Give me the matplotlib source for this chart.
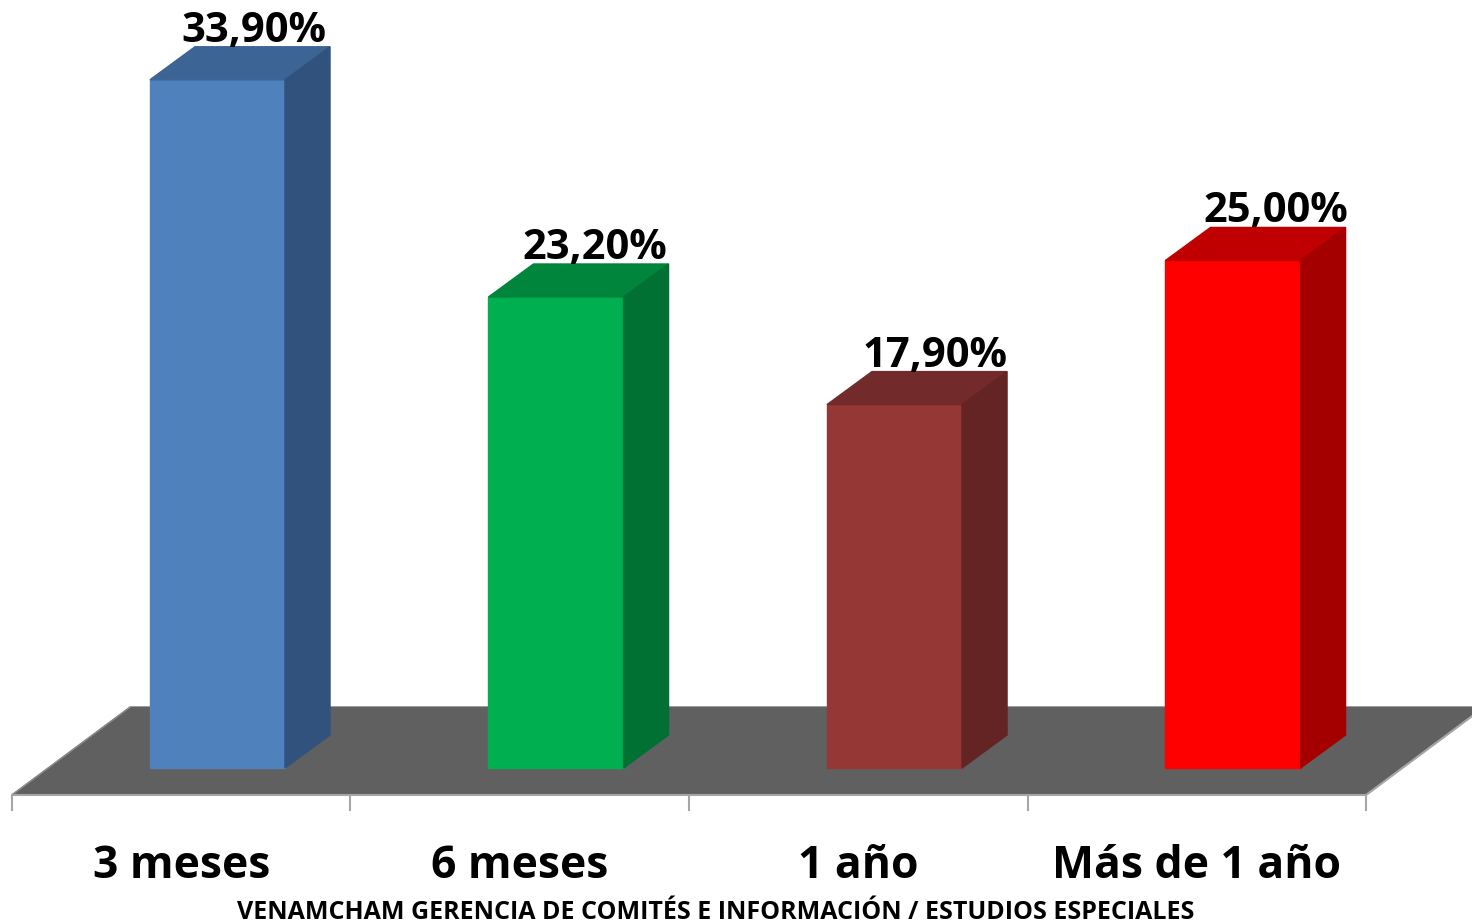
"""3D-style bar chart: tiempo estimado (VENAMCHAM)."""

import matplotlib
matplotlib.use("Agg")
import matplotlib.pyplot as plt

# data
categories = ["3 meses", "6 meses", "1 año", "Más de 1 año"]
values = [33.9, 23.2, 17.9, 25.0]
value_labels = ["33,90%", "23,20%", "17,90%", "25,00%"]
front_colors = ["#4F81BD", "#00B050", "#953735", "#FF0000"]
top_colors = ["#3C6494", "#00863C", "#722B2A", "#C00000"]
side_colors = ["#30527C", "#007033", "#632423", "#A50000"]
footer = "VENAMCHAM GERENCIA DE COMITÉS E INFORMACIÓN / ESTUDIOS ESPECIALES"

plt.rcParams["font.family"] = ["Open Sans", "DejaVu Sans"]

fig = plt.figure(figsize=(14.72, 9.24), dpi=100)
ax = fig.add_axes([0, 0, 1, 1])
ax.set_xlim(-0.5354, 3.813)
ax.set_ylim(-7.685, 37.83)
ax.axis("off")

# 3D projection offsets (data units)
bar_dx, bar_dy = 0.133, 1.626
floor_dx, floor_dy = 0.349, 4.33
floor_front = -1.33
bar_w = 0.399
bar_shift = 0.107

# floor
n = len(categories)
fx = [-0.5, n - 0.5, n - 0.5 + floor_dx, -0.5 + floor_dx]
fy = [floor_front, floor_front, floor_front + floor_dy, floor_front + floor_dy]
ax.fill(fx, fy, color="#606060", zorder=1)
ax.plot([-0.5, n - 0.5, n - 0.5 + floor_dx], [floor_front, floor_front, floor_front + floor_dy],
        color="#A6A6A6", lw=1.5, zorder=2)
ax.plot([-0.5, -0.5 + floor_dx], [floor_front, floor_front + floor_dy], color="#8C8C8C", lw=1, zorder=2)
for k in range(n + 1):
    ax.plot([k - 0.5, k - 0.5], [floor_front, floor_front - 0.75], color="#A6A6A6", lw=1.5, zorder=2)

# bars
for i, (v, lab) in enumerate(zip(values, value_labels)):
    x0 = i + bar_shift - bar_w / 2
    x1 = x0 + bar_w
    ax.fill([x0, x1, x1, x0], [0, 0, v, v], color=front_colors[i], zorder=3)
    ax.fill([x0, x1, x1 + bar_dx, x0 + bar_dx], [v, v, v + bar_dy, v + bar_dy],
            color=top_colors[i], zorder=3)
    ax.fill([x1, x1 + bar_dx, x1 + bar_dx, x1], [0, bar_dy, v + bar_dy, v],
            color=side_colors[i], zorder=3)
    ax.text(i + 0.215 + 0.006 * i, v + bar_dy + 0.25, lab, ha="center", va="baseline",
            fontsize=30, fontweight="bold", color="black", zorder=4)

# category labels
for i, c in enumerate(categories):
    ax.text(i, -4.85, c, ha="center", va="center", fontsize=32, fontweight="bold", color="black")

ax.text(1.58, -7.12, footer, ha="center", va="center", fontsize=18, fontweight="bold", color="black")

fig.savefig("out.png", dpi=100)
